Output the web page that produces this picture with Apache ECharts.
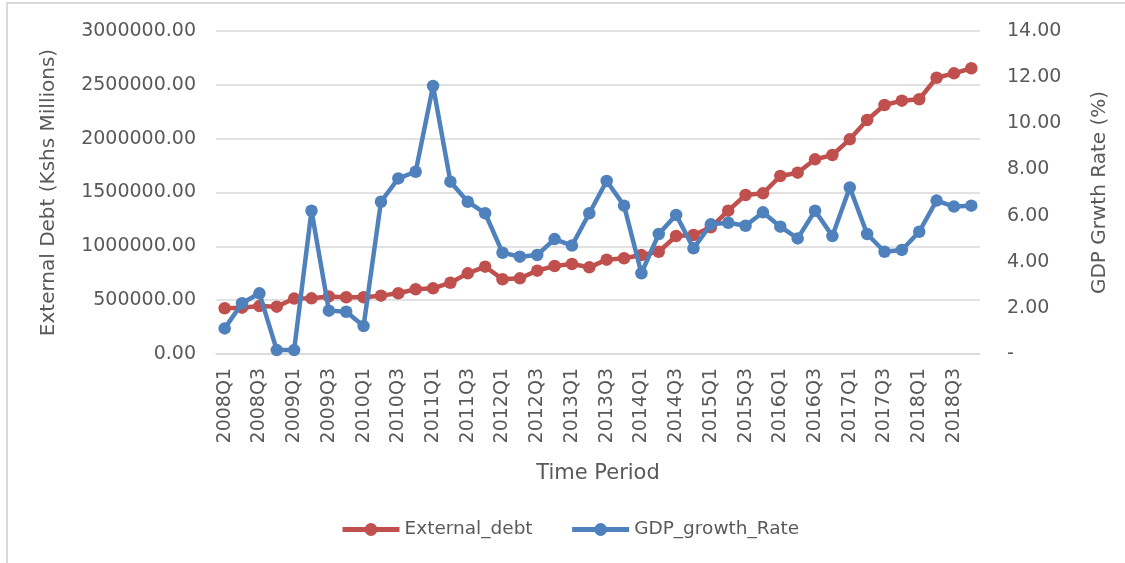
<!DOCTYPE html>
<html>
<head>
<meta charset="utf-8">
<script src="https://cdn.jsdelivr.net/npm/echarts@6/dist/echarts.min.js"></script>
<style>
  html, body { margin: 0; padding: 0; background: #ffffff; }
  #chart { width: 1125px; height: 563px; }
</style>
</head>
<body>
<div id="chart"></div>
<script>
const categories = [
  '2008Q1','2008Q2','2008Q3','2008Q4',
  '2009Q1','2009Q2','2009Q3','2009Q4',
  '2010Q1','2010Q2','2010Q3','2010Q4',
  '2011Q1','2011Q2','2011Q3','2011Q4',
  '2012Q1','2012Q2','2012Q3','2012Q4',
  '2013Q1','2013Q2','2013Q3','2013Q4',
  '2014Q1','2014Q2','2014Q3','2014Q4',
  '2015Q1','2015Q2','2015Q3','2015Q4',
  '2016Q1','2016Q2','2016Q3','2016Q4',
  '2017Q1','2017Q2','2017Q3','2017Q4',
  '2018Q1','2018Q2','2018Q3','2018Q4'
];

const externalDebt = [
  425000, 430000, 445000, 440000,
  515000, 517000, 535000, 527000,
  527000, 542000, 564000, 601000,
  610000, 662000, 749000, 811000,
  694000, 703000, 774000, 817000,
  836000, 805000, 876000, 889000,
  919000, 950000, 1096000, 1105000,
  1177000, 1331000, 1477000, 1492000,
  1653000, 1684000, 1808000, 1848000,
  1994000, 2173000, 2313000, 2353000,
  2366000, 2566000, 2607000, 2654000
];

const gdpGrowthRate = [
  1.11, 2.20, 2.63, 0.17,
  0.17, 6.21, 1.88, 1.83,
  1.21, 6.60, 7.61, 7.90,
  11.62, 7.47, 6.60, 6.10,
  4.39, 4.22, 4.29, 4.98,
  4.70, 6.10, 7.50, 6.43,
  3.50, 5.20, 6.03, 4.58,
  5.62, 5.69, 5.56, 6.14,
  5.52, 5.01, 6.21, 5.11,
  7.22, 5.20, 4.43, 4.51,
  5.30, 6.65, 6.39, 6.43
];

const seriesNames = ['External_debt', 'GDP_growth_Rate'];
const axisTitles = {
  x: 'Time Period',
  left: 'External Debt (Kshs Millions)',
  right: 'GDP Grwth Rate (%)'
};

const FONT = 'DejaVu Sans';
const TXT = '#595959';
const RED = '#C0504D';
const BLUE = '#4F81BD';

const chart = echarts.init(document.getElementById('chart'), null, { renderer: 'canvas' });

chart.setOption({
  backgroundColor: '#ffffff',
  animation: false,
  graphic: [{
    type: 'rect',
    shape: { x: 7, y: 3, width: 1300, height: 800 },
    style: { fill: 'none', stroke: '#d9d9d9', lineWidth: 2 },
    silent: true,
    z: -10
  }],
  grid: { left: 216, right: 145, top: 31, bottom: 209, containLabel: false },
  legend: {
    data: seriesNames,
    left: 335,
    top: 515,
    itemWidth: 57,
    itemHeight: 16,
    itemGap: 37,
    lineStyle: { width: 5 },
    textStyle: { fontFamily: FONT, fontSize: 18.5, color: TXT }
  },
  xAxis: {
    type: 'category',
    data: categories,
    boundaryGap: true,
    name: axisTitles.x,
    nameLocation: 'middle',
    nameGap: 109,
    nameTextStyle: { fontFamily: FONT, fontSize: 21, color: TXT },
    axisLine: { show: true, lineStyle: { color: '#d9d9d9', width: 1.5 } },
    axisTick: { show: false },
    axisLabel: {
      interval: 1,
      rotate: 90,
      margin: 14,
      fontFamily: FONT,
      fontSize: 19,
      color: TXT
    },
    splitLine: { show: false }
  },
  yAxis: [
    {
      type: 'value',
      min: 0,
      max: 3000000,
      interval: 500000,
      position: 'left',
      name: axisTitles.left,
      nameLocation: 'middle',
      nameRotate: 90,
      nameGap: 157,
      nameTextStyle: { fontFamily: FONT, fontSize: 20, color: TXT },
      axisLine: { show: false },
      axisTick: { show: false },
      axisLabel: {
        margin: 20,
        fontFamily: FONT,
        fontSize: 19,
        color: TXT,
        formatter: v => v.toFixed(2)
      },
      splitLine: { show: true, lineStyle: { color: '#d9d9d9', width: 1.5 } }
    },
    {
      type: 'value',
      min: 0,
      max: 14,
      interval: 2,
      position: 'right',
      name: axisTitles.right,
      nameLocation: 'middle',
      nameRotate: 90,
      nameGap: 110,
      nameTextStyle: { fontFamily: FONT, fontSize: 20, color: TXT },
      axisLine: { show: false },
      axisTick: { show: false },
      axisLabel: {
        margin: 27,
        fontFamily: FONT,
        fontSize: 19,
        color: TXT,
        formatter: v => (v === 0 ? '-' : v.toFixed(2))
      },
      splitLine: { show: false }
    }
  ],
  series: [
    {
      name: seriesNames[0],
      type: 'line',
      yAxisIndex: 0,
      data: externalDebt,
      symbol: 'circle',
      symbolSize: 12.5,
      showAllSymbol: true,
      lineStyle: { color: RED, width: 4.5 },
      itemStyle: { color: RED },
      z: 2
    },
    {
      name: seriesNames[1],
      type: 'line',
      yAxisIndex: 1,
      data: gdpGrowthRate,
      symbol: 'circle',
      symbolSize: 12.5,
      showAllSymbol: true,
      lineStyle: { color: BLUE, width: 4.5 },
      itemStyle: { color: BLUE },
      z: 3
    }
  ]
});
</script>
</body>
</html>
